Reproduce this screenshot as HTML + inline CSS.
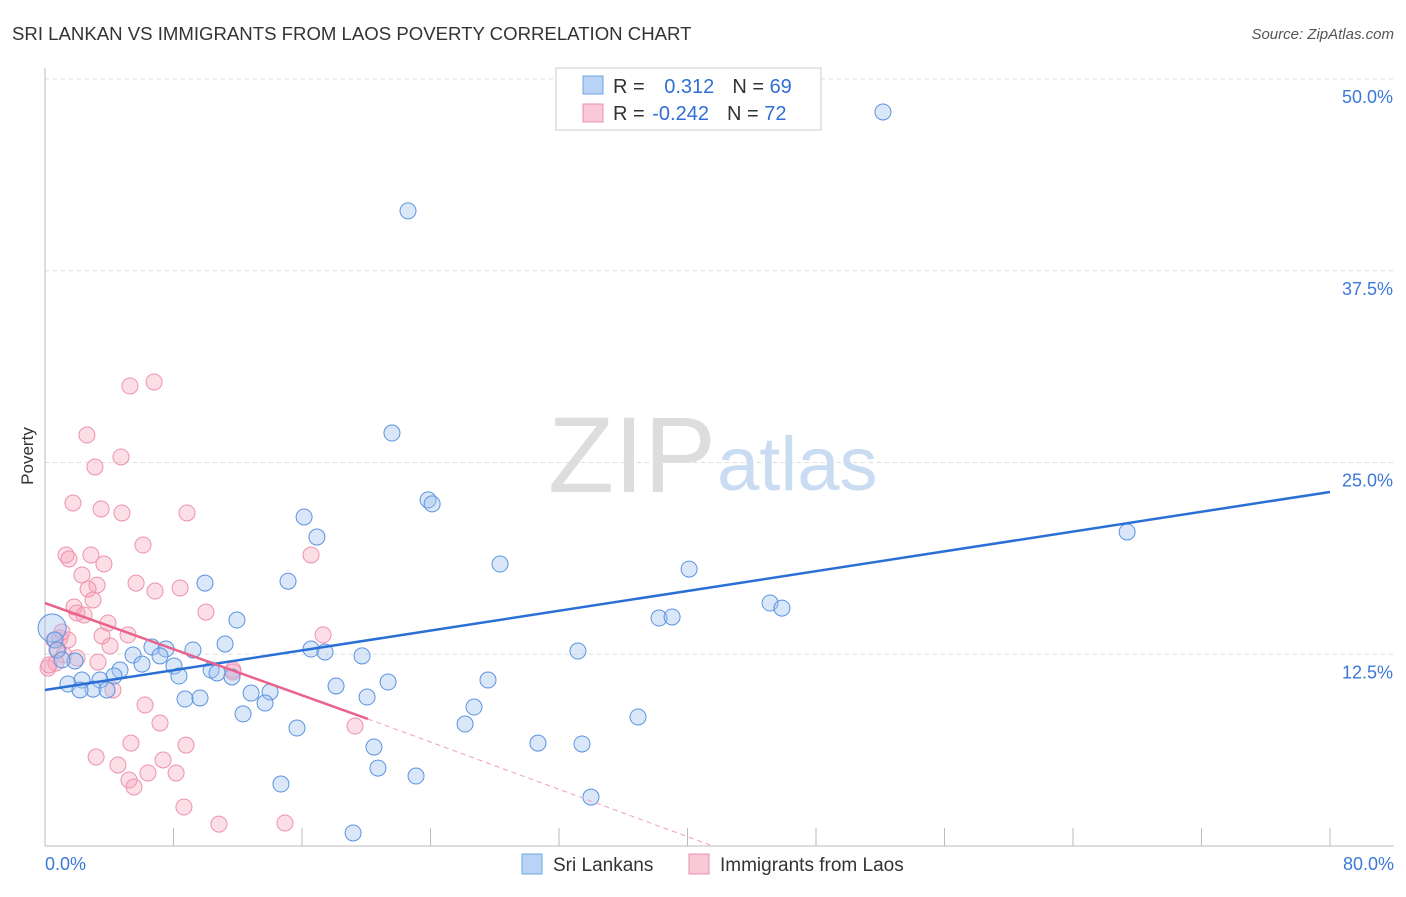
<!DOCTYPE html>
<html><head><meta charset="utf-8"><style>
body{margin:0;background:#fff;font-family:"Liberation Sans",sans-serif;}
svg text{font-family:"Liberation Sans",sans-serif;}
</style></head><body>
<svg width="1406" height="892">
<text x="12" y="40" font-size="18.6" fill="#333">SRI LANKAN VS IMMIGRANTS FROM LAOS POVERTY CORRELATION CHART</text>
<text x="1394" y="39" font-size="15" fill="#555" font-style="italic" text-anchor="end">Source: ZipAtlas.com</text>
<g id="grid"></g>
<text x="716" y="492" font-size="108" fill="#ddd" font-family="Liberation Serif,serif" text-anchor="end">ZIP</text>
<text x="717" y="490" font-size="76" fill="#c9dcf2">atlas</text>
<g id="pts"></g>
<g id="lines"></g>
<text transform="translate(33,456) rotate(-90)" font-size="17" fill="#333" text-anchor="middle">Poverty</text>
<rect x="556" y="68" width="265" height="62" fill="#fff" stroke="#ccc"/>
<rect x="583" y="76" width="20" height="18" fill="#b8d3f5" stroke="#6fa3e6"/>
<rect x="583" y="104" width="20" height="18" fill="#f9c9d7" stroke="#ec8fab"/>
<text x="613" y="93" font-size="20" fill="#333">R = <tspan fill="#2f6fd6" dx="14">0.312</tspan><tspan dx="18">N = </tspan><tspan fill="#2f6fd6">69</tspan></text>
<text x="613" y="120" font-size="20" fill="#333">R = <tspan fill="#2f6fd6" dx="2">-0.242</tspan><tspan dx="18">N = </tspan><tspan fill="#2f6fd6">72</tspan></text>
<rect x="522" y="854" width="20" height="20" fill="#b8d3f5" stroke="#6fa3e6"/>
<text x="553" y="871" font-size="19" fill="#333">Sri Lankans</text>
<rect x="689" y="854" width="20" height="20" fill="#f9c9d7" stroke="#ec8fab"/>
<text x="720" y="871" font-size="19" fill="#333">Immigrants from Laos</text>
</svg>
<script>
const yTicks=[12.5,25,37.5,50];
const yTickLabels=["12.5%","25.0%","37.5%","50.0%"];
const xTickLabels=["0.0%","80.0%"];
const blueX=[52.17,22.60,21.60,23.85,24.10,67.37,16.13,16.93,28.33,40.10,15.13,9.96,45.14,45.88,38.23,39.04,11.95,0.44,11.21,33.18,16.56,17.43,6.66,7.53,5.48,7.16,9.21,19.74,0.62,1.87,6.04,8.03,4.67,8.34,10.34,10.71,11.64,21.36,27.58,18.12,4.30,3.42,2.30,1.43,2.99,3.86,12.83,14.01,20.05,8.72,9.65,13.70,26.71,12.33,36.92,26.15,15.69,30.69,33.43,20.48,20.73,23.10,14.69,33.99,19.18,0.75,1.06,2.18];
const blueY=[47.85,41.40,26.92,22.56,22.30,20.47,21.45,20.14,18.38,18.05,17.26,17.14,15.84,15.51,14.86,14.93,14.73,14.21,13.17,12.71,12.84,12.65,12.97,12.84,12.45,12.39,12.78,12.39,13.43,12.06,11.86,11.73,11.47,11.08,11.47,11.28,11.02,10.69,10.82,10.43,11.08,10.82,10.82,10.56,10.23,10.17,9.97,10.04,9.71,9.58,9.65,9.32,9.06,8.61,8.41,7.95,7.69,6.71,6.65,6.45,5.08,4.56,4.04,3.19,0.85,12.78,12.13,10.17];
const pinkX=[6.79,5.29,2.61,3.11,4.73,1.74,3.49,4.79,8.84,6.10,1.31,1.49,2.86,3.67,16.56,2.30,3.24,2.68,5.67,6.85,8.41,1.81,1.99,2.43,2.99,3.92,10.02,17.31,0.56,0.93,1.43,3.55,5.17,4.05,0.81,1.18,0.68,3.30,0.19,11.70,11.70,4.23,6.23,7.16,19.30,8.78,5.35,3.18,4.54,6.41,8.16,7.35,5.23,5.54,8.65,10.83,14.94,0.25,1.06,1.99];
const pinkY=[30.25,29.99,26.79,24.71,25.36,22.36,21.97,21.71,21.71,19.62,18.97,18.71,18.97,18.38,18.97,17.67,17.01,16.75,17.14,16.62,16.82,15.58,15.19,15.06,16.04,14.54,15.25,13.76,13.43,13.56,13.43,13.69,13.76,13.04,12.78,12.45,11.93,11.99,11.60,11.34,11.47,10.17,9.19,8.02,7.82,6.58,6.71,5.80,5.28,4.76,4.76,5.61,4.30,3.85,2.54,1.43,1.50,11.80,13.95,12.26];
const blueTrend=[[0,10.17],[80,23.08]];
const pinkTrend=[[0,15.84],[20.1,8.28]];
const pinkDash=[[20.1,8.28],[41.4,0.07]];
const NS="http://www.w3.org/2000/svg";
const sx=v=>45+v/80*1285, sy=v=>846-v/50*767;
function mk(tag,attrs,parent){const e=document.createElementNS(NS,tag);for(const k in attrs)e.setAttribute(k,attrs[k]);parent.appendChild(e);return e;}
const grid=document.getElementById('grid');
yTicks.forEach((t,i)=>{
 const l=mk('line',{x1:45,x2:1394,y1:sy(t),y2:sy(t),stroke:'#ddd','stroke-dasharray':'4,4'},grid);
 
 
 const tx=mk('text',{x:1393,y:sy(t)+24,'font-size':18,fill:'#3b78d8','text-anchor':'end'},grid);
 tx.textContent=yTickLabels[i];
 
 
});
const ax=mk('line',{x1:45,x2:45,y1:68,y2:846,stroke:'#bbb'},grid);


const bx=mk('line',{x1:45,x2:1394,y1:846,y2:846,stroke:'#bbb'},grid);


for(let i=1;i<=10;i++){const t=mk('line',{x1:sx(i*8),x2:sx(i*8),y1:828,y2:846,stroke:'#bbb'},grid);
 
 }
[[0,xTickLabels[0],'start',45],[80,xTickLabels[1],'end',1394]].forEach(a=>{
 const t=mk('text',{x:a[3],y:870,'font-size':18,fill:'#3b78d8','text-anchor':a[2]},grid);t.textContent=a[1];
 
 });
const pts=document.getElementById('pts');
pinkX.forEach((x,i)=>{const c=mk('circle',{cx:sx(x),cy:sy(pinkY[i]),r:8,fill:'rgba(245,160,185,0.35)',stroke:'#ee92ae','stroke-width':1},pts);
 
 });
blueX.forEach((x,i)=>{const c=mk('circle',{cx:sx(x),cy:sy(blueY[i]),r:i==17?14:8,fill:'rgba(160,195,240,0.4)',stroke:'#5b93e0','stroke-width':1},pts);
 
 });
const lines=document.getElementById('lines');
const bl=mk('line',{x1:sx(blueTrend[0][0]),y1:sy(blueTrend[0][1]),x2:sx(blueTrend[1][0]),y2:sy(blueTrend[1][1]),stroke:'#2a6fd6','stroke-width':2.5},lines);


const pl=mk('line',{x1:sx(pinkTrend[0][0]),y1:sy(pinkTrend[0][1]),x2:sx(pinkTrend[1][0]),y2:sy(pinkTrend[1][1]),stroke:'#e8628c','stroke-width':2.5},lines);


const pd=mk('line',{x1:sx(pinkDash[0][0]),y1:sy(pinkDash[0][1]),x2:sx(pinkDash[1][0]),y2:sy(pinkDash[1][1]),stroke:'#f0a0b8','stroke-width':1,'stroke-dasharray':'5,4'},lines);


</script>
</body></html>
